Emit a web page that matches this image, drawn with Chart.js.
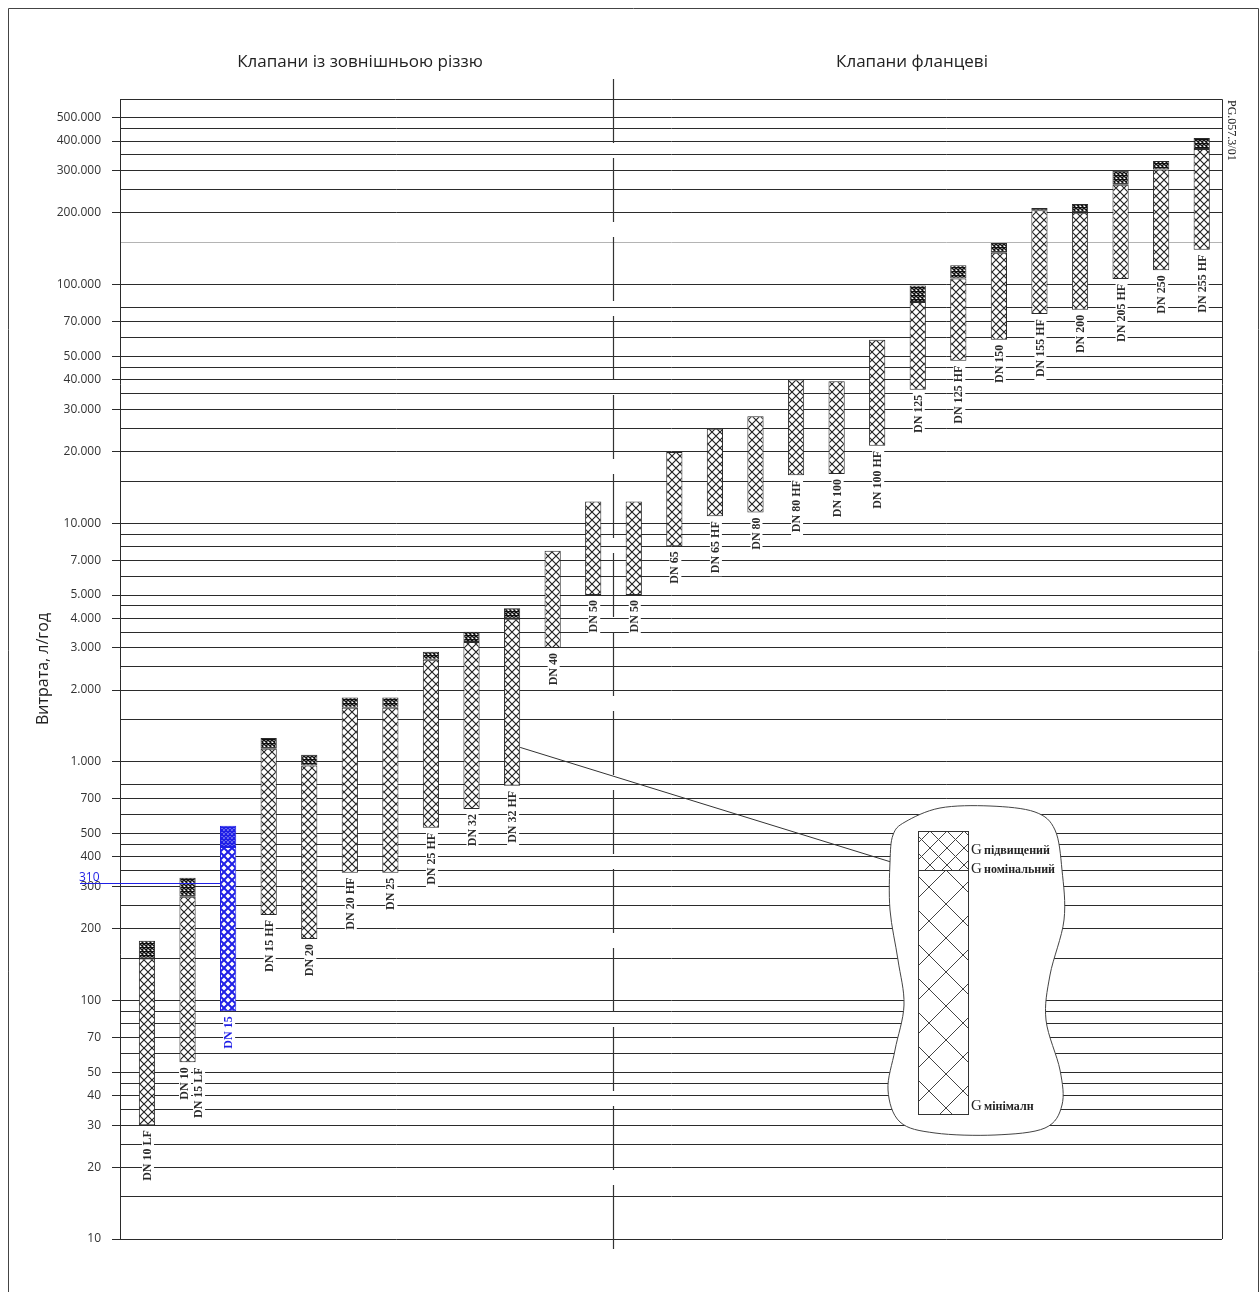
<!DOCTYPE html>
<html>
<head>
<meta charset="utf-8">
<script src="https://cdn.jsdelivr.net/npm/chart.js@4/dist/chart.umd.min.js"></script>
<style>
html, body { margin:0; padding:0; background:#fff; }
#wrap { width:1260px; height:1292px; }
</style>
</head>
<body>
<div id="wrap"><canvas id="chart_valves" width="1260" height="1292"></canvas></div>
<script>
// valve sizes, left group threaded, right group flanged
var categories = ['DN 10 LF', ['DN 10', 'DN 15 LF'], 'DN 15', 'DN 15 HF', 'DN 20', 'DN 20 HF', 'DN 25', 'DN 25 HF',
	'DN 32', 'DN 32 HF', 'DN 40', 'DN 50', 'DN 50', 'DN 65', 'DN 65 HF', 'DN 80', 'DN 80 HF', 'DN 100', 'DN 100 HF',
	'DN 125', 'DN 125 HF', 'DN 150', 'DN 155 HF', 'DN 200', 'DN 205 HF', 'DN 250', 'DN 255 HF'];

// flow, l/h : G min, G nominal, G raised
var gMin = [30, 55, 90, 228, 181, 343, 343, 529, 635, 793, 3000, 5000, 5000, 8000, 10700, 11100, 15900, 16100, 21100,
	36300, 48000, 58800, 75300, 78500, 105700, 114800, 140200];
var gNom = [150, 272, 440, 1135, 966, 1685, 1685, 2680, 3175, 3980, 7670, 12340, 12340, 19880, 24900, 28050, 40000, 39400, 58800,
	84600, 106000, 136000, 205000, 200000, 262500, 303600, 370000];
var gMax = [178, 327, 540, 1260, 1070, 1860, 1860, 2890, 3510, 4405, null, null, null, null, null, null, null, null, null,
	99300, 120500, 149600, 209700, 218000, 300600, 329700, 412000];

var gridValues = [10, 15, 20, 25, 30, 35, 40, 45, 50, 60, 70, 80, 90,
	100, 150, 200, 250, 300, 350, 400, 450, 500, 600, 700, 800,
	1000, 1500, 2000, 2500, 3000, 3500, 4000, 4500, 5000, 6000, 7000, 8000, 9000,
	10000, 15000, 20000, 25000, 30000, 35000, 40000, 45000, 50000, 60000, 70000, 80000,
	100000, 150000, 200000, 250000, 300000, 350000, 400000, 450000, 500000];
var tickLabels = [10, 20, 30, 40, 50, 70, 100, 200, 300, 400, 500, 700, 1000, 2000, 3000, 4000, 5000, 7000,
	10000, 20000, 30000, 40000, 50000, 70000, 100000, 200000, 300000, 400000, 500000];

var sectionTitles = ['Клапани із зовнішньою різзю', 'Клапани фланцеві'];
var yTitle = 'Витрата, л/год';
var legendTexts = ['підвищений', 'номінальний', 'мінімалн'];
var docCode = 'PG.057.3/01';
var markValue = 310;
var highlightIndex = 2;
var splitAfter = 11;
var calloutIndex = 9;

var fmtTick = function(v){ return String(v).replace(/\B(?=(\d{3})+(?!\d))/g, '.'); };

var ctx = document.getElementById('chart_valves').getContext('2d');

function hatch(size, color, lw, bg){
	var c = document.createElement('canvas');
	c.width = size; c.height = size;
	var g = c.getContext('2d');
	g.fillStyle = bg; g.fillRect(0, 0, size, size);
	g.strokeStyle = color; g.lineWidth = lw;
	g.beginPath();
	g.moveTo(-1, -1); g.lineTo(size + 1, size + 1);
	g.moveTo(size + 1, -1); g.lineTo(-1, size + 1);
	g.stroke();
	return ctx.createPattern(c, 'repeat');
}
var grayLow = hatch(8, '#222', 1.15, '#fff');
var grayTop = hatch(4, '#111', 1.5, '#fff');
var blueLow = hatch(8, '#1f1fe6', 2, '#fff');
var blueTop = hatch(4, '#1f1fe6', 1.6, '#fff');
var BLUE = '#1f1fe6';

var lowData = [], topData = [];
for (var i = 0; i < categories.length; i++) {
	lowData.push({x: i, y: [gMin[i], gNom[i]]});
	if (gMax[i] != null) topData.push({x: i, y: [gNom[i], gMax[i]]});
}

function smoothPath(c, pts){
	var n = pts.length;
	c.moveTo(pts[0][0], pts[0][1]);
	for (var k = 0; k < n; k++) {
		var p0 = pts[(k - 1 + n) % n], p1 = pts[k], p2 = pts[(k + 1) % n], p3 = pts[(k + 2) % n];
		c.bezierCurveTo(p1[0] + (p2[0] - p0[0]) / 6, p1[1] + (p2[1] - p0[1]) / 6,
			p2[0] - (p3[0] - p1[0]) / 6, p2[1] - (p3[1] - p1[1]) / 6, p2[0], p2[1]);
	}
	c.closePath();
}

function hatchRect(c, x, y, w, h, s, color){
	c.save();
	c.beginPath(); c.rect(x, y, w, h); c.clip();
	c.strokeStyle = color; c.lineWidth = 1;
	c.beginPath();
	for (var k = -h - s; k < w + h + s; k += s) {
		c.moveTo(x + k, y); c.lineTo(x + k + h, y + h);
		c.moveTo(x + k, y); c.lineTo(x + k - h, y + h);
	}
	c.stroke();
	c.restore();
}

var decor = {
	id: 'decor',
	beforeDraw: function(chart){
		var c = chart.ctx;
		c.save();
		c.fillStyle = '#fff'; c.fillRect(0, 0, chart.width, chart.height);
		c.strokeStyle = '#444'; c.lineWidth = 1;
		c.beginPath();
		c.moveTo(8.5, chart.height); c.lineTo(8.5, 8.5); c.lineTo(1258.5, 8.5); c.lineTo(1258.5, chart.height);
		c.stroke();
		c.restore();
	},
	beforeDatasetsDraw: function(chart){
		var c = chart.ctx, bars = chart.getDatasetMeta(0).data;
		var xd = Math.round((bars[splitAfter].x + bars[splitAfter + 1].x) / 2) + 0.5;
		c.save();
		c.strokeStyle = '#333'; c.lineWidth = 1.2;
		c.setLineDash([64, 15]);
		c.beginPath(); c.moveTo(xd, 79); c.lineTo(xd, 1256); c.stroke();
		c.restore();
	},
	afterDatasetsDraw: function(chart){
		var c = chart.ctx, a = chart.chartArea, ys = chart.scales.y;
		var bars = chart.getDatasetMeta(0).data;
		c.save();
		// top and right frame of the plot
		c.strokeStyle = '#2b2b2b'; c.lineWidth = 1;
		c.beginPath();
		c.moveTo(a.left, Math.round(a.top) + 0.5); c.lineTo(Math.round(a.right) + 0.5, Math.round(a.top) + 0.5);
		c.lineTo(Math.round(a.right) + 0.5, a.bottom);
		c.stroke();

		// rotated size labels under each bar
		c.font = 'bold 12px "Liberation Serif"';
		c.textBaseline = 'middle';
		c.textAlign = 'right';
		bars.forEach(function(el, i){
			var lines = [].concat(categories[i]);
			var bottom = Math.max(el.y, el.base);
			c.save();
			c.translate(el.x, bottom + 5);
			c.rotate(-Math.PI / 2);
			lines.forEach(function(t, k){
				var off = (k - (lines.length - 1) / 2) * 14 + (lines.length > 1 ? 3.5 : 0) + 1;
				var w = c.measureText(t).width;
				c.fillStyle = '#fff';
				c.fillRect(-w - 3, off - 6, w + 5, 12);
				c.fillStyle = i === highlightIndex ? BLUE : '#2a2a2a';
				c.fillText(t, 0, off);
			});
			c.restore();
		});

		// marked value on the highlighted valve
		var hb = bars[highlightIndex];
		var ym = Math.round(ys.getPixelForValue(markValue)) + 0.5;
		c.strokeStyle = BLUE; c.lineWidth = 1;
		c.beginPath(); c.moveTo(80, ym); c.lineTo(hb.x - hb.width / 2, ym); c.stroke();
		c.fillStyle = BLUE; c.font = '12px "Open Sans"'; c.textAlign = 'left'; c.textBaseline = 'alphabetic';
		c.fillText(String(markValue), 79, ym - 3);

		// callout to legend
		var cb = bars[calloutIndex];
		var cy = Math.max(cb.y, cb.base) - Math.abs(cb.base - cb.y) * 0.23;
		c.strokeStyle = '#333'; c.lineWidth = 1;
		c.beginPath(); c.moveTo(cb.x + cb.width / 2, cy); c.lineTo(891, 862); c.stroke();

		var blob = [[905, 822], [940, 808], [990, 806], [1035, 812], [1055, 830], [1062, 870], [1064, 920], [1050, 975],
			[1046, 1020], [1060, 1070], [1062, 1105], [1045, 1128], [995, 1135], [935, 1133], [900, 1122], [888, 1090],
			[895, 1050], [904, 1005], [898, 960], [890, 910], [890, 862], [893, 835]];
		c.beginPath(); smoothPath(c, blob);
		c.fillStyle = '#fff'; c.fill();
		c.strokeStyle = '#444'; c.lineWidth = 1; c.stroke();

		// legend bar
		c.fillStyle = '#fff'; c.fillRect(918, 831, 50, 283);
		hatchRect(c, 918, 831, 50, 39, 17, '#444');
		hatchRect(c, 918, 870, 50, 244, 34, '#444');
		c.strokeStyle = '#333'; c.lineWidth = 1;
		c.strokeRect(918.5, 831.5, 50, 283);
		c.beginPath(); c.moveTo(918, 870.5); c.lineTo(969, 870.5); c.stroke();
		var ly = [850, 869, 1106];
		c.fillStyle = '#222'; c.textBaseline = 'middle'; c.textAlign = 'left';
		ly.forEach(function(y, k){
			c.font = '15px "Liberation Serif"';
			c.fillText('G', 971, y);
			c.font = 'bold 12px "Liberation Serif"';
			c.fillText(legendTexts[k], 984, y + 1);
		});

		// section titles
		c.font = '17px "Open Sans"'; c.fillStyle = '#222'; c.textAlign = 'center'; c.textBaseline = 'middle';
		c.fillText(sectionTitles[0], 360, 62);
		c.fillText(sectionTitles[1], 912, 62);

		// drawing code
		c.save();
		c.translate(1231, 100); c.rotate(Math.PI / 2);
		c.font = '12px "Liberation Serif"'; c.textAlign = 'left';
		c.fillText(docCode, 0, 0);
		c.restore();
		c.restore();
	}
};

var chart = new Chart(ctx, {
	type: 'bar',
	data: {
		datasets: [
			{
				data: lowData,
				grouped: false,
				barPercentage: 0.4,
				categoryPercentage: 1,
				borderSkipped: false,
				borderWidth: 1,
				backgroundColor: function(c){ return c.dataIndex === highlightIndex ? blueLow : grayLow; },
				borderColor: function(c){ return c.dataIndex === highlightIndex ? BLUE : '#2a2a2a'; }
			},
			{
				data: topData,
				grouped: false,
				barPercentage: 0.4,
				categoryPercentage: 1,
				borderSkipped: false,
				borderWidth: 1,
				backgroundColor: function(c){ return c.raw && c.raw.x === highlightIndex ? blueTop : grayTop; },
				borderColor: function(c){ return c.raw && c.raw.x === highlightIndex ? BLUE : '#2a2a2a'; }
			}
		]
	},
	options: {
		responsive: false,
		animation: false,
		devicePixelRatio: 1,
		layout: { padding: { left: 0, top: 99, right: 38, bottom: 53 } },
		plugins: { legend: { display: false }, tooltip: { enabled: false }, title: { display: false } },
		scales: {
			x: {
				type: 'linear',
				min: -0.665,
				max: 26.5,
				display: false,
				offset: false
			},
			y: {
				type: 'logarithmic',
				min: 10,
				max: 600000,
				afterBuildTicks: function(s){ s.ticks = gridValues.map(function(v){ return {value: v}; }); },
				afterFit: function(s){ s.width = 120; },
				ticks: {
					autoSkip: false,
					padding: 11,
					color: '#333',
					font: { family: '"Open Sans"', size: 12 },
					callback: function(v){ return tickLabels.indexOf(v) >= 0 ? fmtTick(v) : ''; }
				},
				grid: {
					lineWidth: 1,
					tickLength: 8,
					color: function(c){ return c.tick && c.tick.value === 150000 ? '#b4b4b4' : '#2b2b2b'; },
					tickColor: function(c){ return c.tick && tickLabels.indexOf(c.tick.value) >= 0 ? '#2b2b2b' : 'rgba(0,0,0,0)'; }
				},
				border: { display: true, color: '#2b2b2b', width: 1 },
				title: {
					display: true,
					text: yTitle,
					color: '#222',
					font: { family: '"Open Sans"', size: 16 },
					padding: { top: 34, bottom: 0 }
				}
			}
		}
	},
	plugins: [decor]
});
</script>
</body>
</html>
